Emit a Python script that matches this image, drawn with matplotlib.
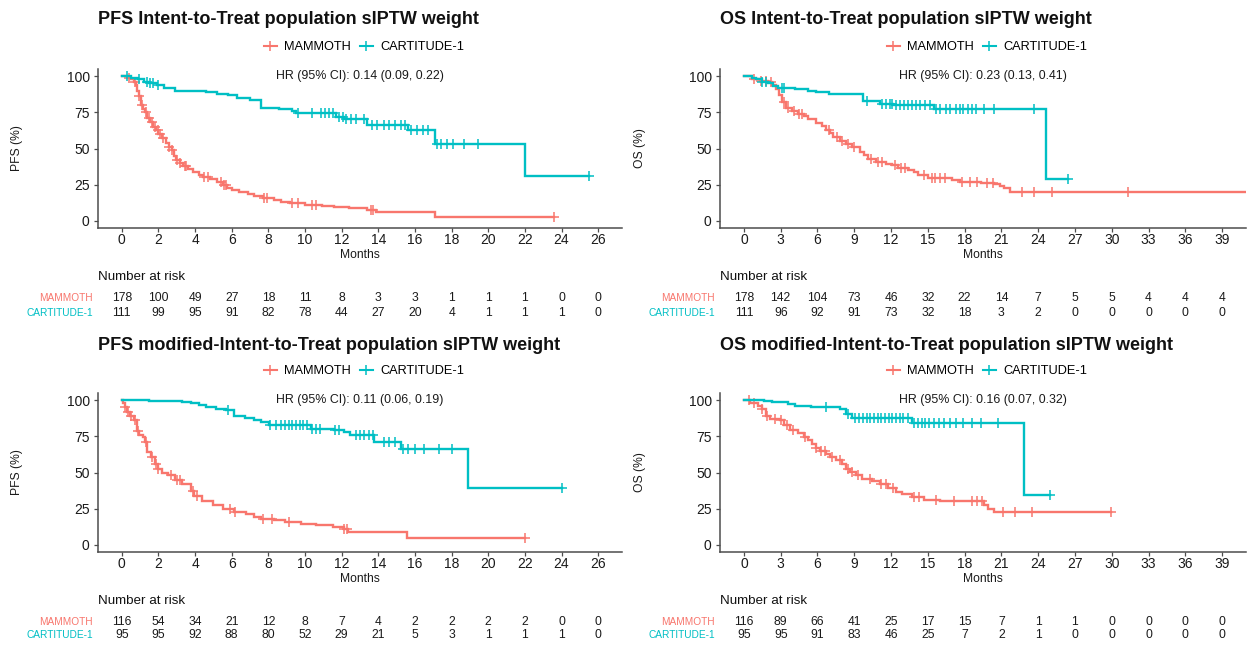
import numpy as np
import matplotlib
matplotlib.use("Agg")
import matplotlib.pyplot as plt
from matplotlib.lines import Line2D
from matplotlib.transforms import blended_transform_factory

plt.rcParams['font.family'] = ['Liberation Sans', 'DejaVu Sans']

RED = '#F8766D'
TEAL = '#00BFC4'
GROUPS = ['MAMMOTH', 'CARTITUDE-1']

# ---------------- data ----------------
TITLES = ['PFS Intent-to-Treat population sIPTW weight',
          'OS Intent-to-Treat population sIPTW weight',
          'PFS modified-Intent-to-Treat population sIPTW weight',
          'OS modified-Intent-to-Treat population sIPTW weight']
YLABELS = ['PFS (%)', 'OS (%)', 'PFS (%)', 'OS (%)']
HR_TEXTS = ['HR (95% CI): 0.14 (0.09, 0.22)',
            'HR (95% CI): 0.23 (0.13, 0.41)',
            'HR (95% CI): 0.11 (0.06, 0.19)',
            'HR (95% CI): 0.16 (0.07, 0.32)']
BREAKS_PFS = [0, 2, 4, 6, 8, 10, 12, 14, 16, 18, 20, 22, 24, 26]
BREAKS_OS = [0, 3, 6, 9, 12, 15, 18, 21, 24, 27, 30, 33, 36, 39]
Y_TICKS = [0, 25, 50, 75, 100]

# Panel 1: PFS ITT
P1_RED_T = [0, 0.3, 0.5, 0.65, 0.75, 0.85, 0.95, 1.05, 1.15, 1.25, 1.4, 1.55, 1.7, 1.85, 2.0, 2.2, 2.4,
            2.55, 2.75, 2.85, 2.95, 3.15, 3.35, 3.6, 3.9, 4.2, 4.45, 4.8, 5.2, 5.5, 5.75, 6.0, 6.4, 6.9,
            7.2, 7.7, 8.3, 8.7, 9.2, 10.0, 10.9, 11.6, 12.4, 13.4, 13.9, 17.1]
P1_RED_S = [100, 99, 98, 96, 94, 90, 86, 80, 77, 75, 71, 68, 65, 63, 60, 57.5, 54,
            51, 49, 45, 42, 40, 38, 36, 34, 32, 30.5, 29, 27, 25, 23, 21, 20, 18.5,
            17, 15.5, 14.5, 13.2, 12.2, 11, 10, 9.2, 8.5, 7.5, 6.0, 2.5]
P1_RED_END = 23.6
P1_RED_CENS = [0.4, 0.7, 0.95, 1.1, 1.3, 1.5, 1.65, 1.8, 1.95, 2.1, 2.25, 2.6, 2.75, 3.0, 3.2, 3.45,
               3.5, 4.5, 4.7, 5.4, 5.6, 5.7, 7.75, 7.9, 9.3, 9.6, 10.4, 10.6, 13.6, 13.7, 23.6]
P1_TEAL_T = [0, 0.5, 0.9, 1.2, 1.5, 1.9, 2.3, 2.9, 4.6, 5.2, 5.8, 6.3, 7.0, 7.6, 8.6, 9.3, 9.5,
             11.7, 12.1, 13.4, 15.6, 17.1, 22.0]
P1_TEAL_S = [100, 99, 98, 96, 95, 94, 92, 90, 89, 88, 87, 85, 83.5, 78, 77, 76, 74.5,
             72, 70.7, 66.6, 63.1, 53, 31.1]
P1_TEAL_END = 25.5
P1_TEAL_CENS = [0.3, 0.95, 1.35, 1.55, 1.7, 2.0, 9.6, 10.4, 10.85, 11.1, 11.3, 11.5, 11.85, 12.05, 12.25,
                12.5, 12.8, 13.2, 13.65, 13.95, 14.3, 14.6, 14.9, 15.25, 15.45, 15.8, 16.1, 16.45,
                16.7, 17.2, 17.4, 17.75, 18.05, 18.7, 19.45, 25.5]
P1_RISK_RED = [178, 100, 49, 27, 18, 11, 8, 3, 3, 1, 1, 1, 0, 0]
P1_RISK_TEAL = [111, 99, 95, 91, 82, 78, 44, 27, 20, 4, 1, 1, 1, 0]

# Panel 2: OS ITT
P2_RED_T = [0, 0.65, 1.3, 2.0, 2.3, 2.6, 2.9, 3.1, 3.4, 3.9, 4.4, 4.9, 5.2, 5.9, 6.4, 6.7, 7.0, 7.3,
            7.8, 8.3, 8.8, 9.5, 9.8, 10.1, 10.8, 11.6, 12.1, 12.6, 13.4, 13.9, 14.2, 15.0, 17.0,
            17.6, 19.3, 20.4, 20.9, 21.2, 21.7]
P2_RED_S = [100, 98, 97, 96, 94, 91, 87, 82.3, 78, 76, 74, 72.4, 70.7, 67.7, 65.7, 62.7, 60.4, 58,
            55.3, 53, 50.7, 47.7, 45.4, 42.4, 41, 39.6, 38.9, 36.6, 35, 33.4, 31.6, 29.3, 28.1,
            27, 26.3, 25.3, 24.2, 22.4, 20]
P2_RED_END = 42.0
P2_RED_CENS = [0.8, 1.4, 1.8, 2.2, 3.3, 3.6, 4.1, 4.5, 4.7, 6.9, 7.6, 8.0, 8.5, 9.0, 10.4, 10.9, 11.3,
               12.3, 12.8, 13.1, 14.7, 15.3, 15.6, 16.0, 16.4, 17.8, 18.4, 19.0, 19.8, 20.3, 22.7,
               23.7, 25.1, 31.3]
P2_TEAL_T = [0, 0.65, 1.0, 1.5, 2.0, 2.4, 2.8, 4.2, 5.2, 5.9, 6.9, 9.7, 11.1, 12.2, 15.5, 24.6]
P2_TEAL_S = [100, 99, 98, 96, 95, 93, 92, 91, 90, 89, 88, 82.7, 81, 80, 77, 28.6]
P2_TEAL_END = 26.4
P2_TEAL_CENS = [1.5, 1.8, 3.1, 3.3, 10.0, 11.3, 11.6, 11.9, 12.1, 12.4, 12.7, 13.05, 13.4, 13.7, 14.0,
                14.4, 14.8, 15.2, 15.7, 16.0, 16.5, 16.8, 17.3, 17.6, 17.9, 18.3, 18.6, 18.9,
                19.6, 20.4, 23.7, 26.4]
P2_RISK_RED = [178, 142, 104, 73, 46, 32, 22, 14, 7, 5, 5, 4, 4, 4]
P2_RISK_TEAL = [111, 96, 92, 91, 73, 32, 18, 3, 2, 0, 0, 0, 0, 0]

# Panel 3: PFS mITT
P3_RED_T = [0, 0.05, 0.15, 0.3, 0.45, 0.65, 0.85, 0.95, 1.15, 1.25, 1.4, 1.6, 1.8, 2.0, 2.2, 2.5,
            2.9, 3.3, 3.75, 3.95, 4.4, 5.0, 5.5, 6.1, 6.8, 7.2, 7.6, 8.3, 8.9, 9.8, 10.6, 11.5,
            12.1, 12.35, 15.55]
P3_RED_S = [100, 98, 95, 92, 89, 86, 79, 76, 74.5, 71, 64, 60.5, 56, 52.5, 50, 48,
            44.5, 42, 37.5, 34, 30.5, 27.3, 25, 22.6, 21.5, 19.2, 18, 17, 15.7, 14.5, 13.4, 12.2,
            11, 8.8, 4.6]
P3_RED_END = 22.0
P3_RED_CENS = [0.2, 0.35, 0.5, 0.7, 0.9, 1.3, 1.65, 1.85, 2.0, 2.7, 3.0, 3.2, 3.9, 4.1, 5.9, 6.2,
               7.7, 8.2, 9.1, 12.15, 12.3, 22.0]
P3_TEAL_T = [0, 1.5, 3.3, 3.75, 4.2, 4.6, 5.15, 5.7, 6.1, 6.75, 7.2, 7.6, 8.05, 10.3, 11.6, 12.1,
             12.45, 13.75, 15.25, 18.9]
P3_TEAL_S = [100, 99.5, 99, 98, 96.5, 95.4, 94.2, 93, 89, 88, 86, 85, 82.7, 80.4, 79.7, 78,
             75.8, 71.1, 66.5, 39.5]
P3_TEAL_END = 24.0
P3_TEAL_CENS = [5.8, 8.1, 8.4, 8.7, 8.9, 9.1, 9.3, 9.5, 9.7, 9.9, 10.1, 10.4, 10.6, 10.8, 11.65,
                11.85, 12.8, 13.0, 13.2, 13.5, 13.7, 14.3, 14.6, 14.9, 15.35, 15.6, 16.0, 16.5,
                17.3, 18.0, 24.0]
P3_RISK_RED = [116, 54, 34, 21, 12, 8, 7, 4, 2, 2, 2, 2, 0, 0]
P3_RISK_TEAL = [95, 95, 92, 88, 80, 52, 29, 21, 5, 3, 1, 1, 1, 0]

# Panel 4: OS mITT
P4_RED_T = [0, 0.5, 1.15, 1.45, 1.8, 2.1, 2.95, 3.25, 3.75, 4.4, 4.9, 5.2, 5.55, 5.85, 6.2, 6.7,
            7.0, 7.5, 8.0, 8.3, 8.65, 9.15, 9.6, 10.45, 11.1, 11.75, 12.4, 12.9, 13.7, 14.7, 16.0,
            19.6, 19.9, 20.4]
P4_RED_S = [100, 98, 96, 94, 89, 87, 86, 82.7, 79.2, 77, 74.6, 72.3, 70, 67.2, 65, 63,
            60.7, 58.4, 56, 52.7, 50.3, 48, 45.7, 44, 41.8, 39.5, 36.5, 35, 33, 31.2, 30,
            27.3, 25, 22.6]
P4_RED_END = 29.9
P4_RED_CENS = [0.4, 0.8, 1.5, 1.9, 2.5, 3.0, 3.5, 4.0, 5.0, 5.9, 6.3, 6.6, 7.2, 7.8, 8.5, 8.8, 9.3,
               10.3, 11.2, 11.6, 12.2, 13.9, 14.3, 15.7, 17.1, 18.6, 19.0, 19.4, 21.1, 22.1,
               23.5, 29.9]
P4_TEAL_T = [0, 1.6, 2.3, 3.6, 4.2, 5.5, 7.8, 8.3, 8.8, 13.7, 22.85]
P4_TEAL_S = [100, 99.3, 98.8, 97.2, 96, 95.2, 94.2, 90.8, 88, 84.3, 34.6]
P4_TEAL_END = 25.0
P4_TEAL_CENS = [6.7, 8.5, 9.1, 9.4, 9.7, 10.0, 10.3, 10.6, 10.9, 11.2, 11.5, 11.8, 12.1, 12.4, 12.7,
                13.0, 13.4, 13.9, 14.2, 14.5, 14.8, 15.1, 15.5, 15.9, 16.3, 16.8, 17.3, 17.9,
                18.6, 19.3, 20.7, 25.0]
P4_RISK_RED = [116, 89, 66, 41, 25, 17, 15, 7, 1, 1, 0, 0, 0, 0]
P4_RISK_TEAL = [95, 95, 91, 83, 46, 25, 7, 2, 1, 0, 0, 0, 0, 0]

# ---------------- layout ----------------
W, H = 1247, 648
fig = plt.figure(figsize=(W / 100, H / 100), dpi=100)


def fx(px):
    return px / W


def fy(py):
    return 1 - py / H


def step_value(t, s, x):
    t = np.asarray(t)
    s = np.asarray(s)
    idx = np.searchsorted(t, np.asarray(x), side='right') - 1
    return s[np.clip(idx, 0, len(s) - 1)]


panels = [
    dict(box=(98, 69, 622, 228), rows=(20, 47, 255, 277, 298, 313), ylab_x=17, title=TITLES[0],
         ylabel=YLABELS[0], hr=HR_TEXTS[0], breaks=BREAKS_PFS,
         red=(P1_RED_T, P1_RED_S, P1_RED_END, P1_RED_CENS),
         teal=(P1_TEAL_T, P1_TEAL_S, P1_TEAL_END, P1_TEAL_CENS),
         risk=(P1_RISK_RED, P1_RISK_TEAL)),
    dict(box=(720, 69, 1246, 228), rows=(20, 47, 255, 277, 298, 313), ylab_x=640, title=TITLES[1],
         ylabel=YLABELS[1], hr=HR_TEXTS[1], breaks=BREAKS_OS,
         red=(P2_RED_T, P2_RED_S, P2_RED_END, P2_RED_CENS),
         teal=(P2_TEAL_T, P2_TEAL_S, P2_TEAL_END, P2_TEAL_CENS),
         risk=(P2_RISK_RED, P2_RISK_TEAL)),
    dict(box=(98, 393, 622, 552), rows=(345, 371, 579, 601, 622, 635), ylab_x=17, title=TITLES[2],
         ylabel=YLABELS[2], hr=HR_TEXTS[2], breaks=BREAKS_PFS,
         red=(P3_RED_T, P3_RED_S, P3_RED_END, P3_RED_CENS),
         teal=(P3_TEAL_T, P3_TEAL_S, P3_TEAL_END, P3_TEAL_CENS),
         risk=(P3_RISK_RED, P3_RISK_TEAL)),
    dict(box=(720, 393, 1246, 552), rows=(345, 371, 579, 601, 622, 635), ylab_x=640, title=TITLES[3],
         ylabel=YLABELS[3], hr=HR_TEXTS[3], breaks=BREAKS_OS,
         red=(P4_RED_T, P4_RED_S, P4_RED_END, P4_RED_CENS),
         teal=(P4_TEAL_T, P4_TEAL_S, P4_TEAL_END, P4_TEAL_CENS),
         risk=(P4_RISK_RED, P4_RISK_TEAL)),
]

AX_COL = '#4d4d4d'
for p in panels:
    l, t, r, b = p['box']
    title_y, leg_y, months_y, nar_y, row1_y, row2_y = p['rows']
    ax = fig.add_axes([fx(l), fy(b), fx(r - l), (b - t) / H])
    br = p['breaks']
    span = br[-1] - br[0]
    ax.set_xlim(br[0] - 0.05 * span, br[-1] + 0.05 * span)
    ax.set_ylim(-5, 105)

    for (tt, ss, end, cens), col in ((p['red'], RED), (p['teal'], TEAL)):
        xs = list(tt) + [end]
        ys = list(ss) + [ss[-1]]
        ax.step(xs, ys, where='post', color=col, lw=1.7, solid_joinstyle='miter')
        ax.plot(cens, step_value(tt, ss, cens), ls='none', marker='+', ms=7, mew=1.1, color=col)

    for sp in ('top', 'right'):
        ax.spines[sp].set_visible(False)
    for sp in ('left', 'bottom'):
        ax.spines[sp].set_color(AX_COL)
        ax.spines[sp].set_linewidth(1.1)
    ax.set_xticks(br)
    ax.set_yticks(Y_TICKS)
    ax.tick_params(axis='both', length=3, width=0.9, color=AX_COL, labelsize=10,
                   labelcolor='#1a1a1a')
    ax.tick_params(axis='x', pad=0.5)
    ax.tick_params(axis='y', pad=3)

    cx = (l + r) / 2
    ax.text(0.5, 100, p['hr'], transform=blended_transform_factory(ax.transAxes, ax.transData),
            ha='center', va='center', fontsize=8.9, color='#1a1a1a')

    fig.text(fx(l), fy(title_y), p['title'], fontsize=13, fontweight='bold', ha='left',
             va='center', color='#111111')
    fig.text(fx(p['ylab_x']), fy((t + b) / 2), p['ylabel'], rotation=90, fontsize=8.7,
             ha='center', va='center', color='#1a1a1a')
    fig.text(fx(cx), fy(months_y), 'Months', fontsize=8.7, ha='center', va='center',
             color='#1a1a1a')

    handles = [Line2D([0], [0], color=RED, lw=1.5, marker='+', ms=7, mew=1.1),
               Line2D([0], [0], color=TEAL, lw=1.5, marker='+', ms=7, mew=1.1)]
    ax.legend(handles, GROUPS, loc='center', bbox_to_anchor=(fx(cx + 4), fy(leg_y)),
              bbox_transform=fig.transFigure, ncol=2, frameon=False, fontsize=9.2,
              handlelength=1.0, handletextpad=0.6, columnspacing=0.7, borderpad=0,
              borderaxespad=0)

    # risk table
    fig.text(fx(l), fy(nar_y), 'Number at risk', fontsize=9.6, ha='left', va='center',
             color='#111111')
    trans = blended_transform_factory(ax.transData, fig.transFigure)
    for row_y, name, col, vals in ((row1_y, GROUPS[0], RED, p['risk'][0]),
                                    (row2_y, GROUPS[1], TEAL, p['risk'][1])):
        fig.text(fx(l - 5), fy(row_y), name, fontsize=7.3, ha='right', va='center', color=col)
        for xb, v in zip(br, vals):
            fig.text(xb, fy(row_y), str(v), transform=trans, fontsize=8.7, ha='center',
                     va='center', color='#1a1a1a')

fig.savefig('out.png', dpi=100)
